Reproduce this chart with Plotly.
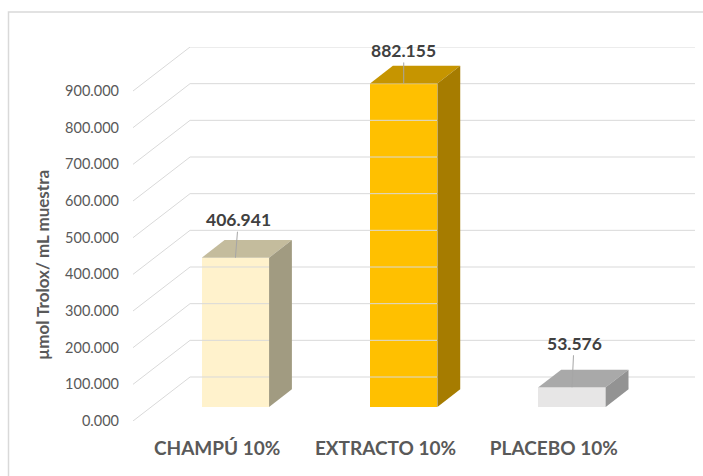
import plotly.graph_objects as go

# ---- data ----
categories = ["CHAMPÚ 10%", "EXTRACTO 10%", "PLACEBO 10%"]
values = [406.941, 882.155, 53.576]
y_ticks = [0, 100, 200, 300, 400, 500, 600, 700, 800, 900]
y_title = "µmol Trolox/ mL muestra"

# ---- style ----
front_colors = ["#FFF2CC", "#FFC000", "#E7E6E6"]
top_colors = ["#C4BC9D", "#C69500", "#A9A9A9"]
side_colors = ["#A19B81", "#A67C00", "#939393"]
label_shift = [(3, -38), (0, -33), (2, -44)]  # pixel offsets of data labels

FONT = "Lato, 'Open Sans', sans-serif"
GRID = "#D9D9D9"
DX, DY = 0.339, 120.0       # depth of the floor (category units, value units)
F1, F2 = 0.32, 0.72         # depth fractions of bar front / back
BW = 0.4                    # bar width (category units)

W, H = 703, 476
L, R, T, B = 133, 8, 47, 55

fig = go.Figure()

# perspective gridlines (front stub + back wall)
gx, gy = [], []
for v in y_ticks:
    gx += [-0.5, -0.5 + DX, len(categories) - 0.5 + DX, None]
    gy += [v, v + DY, v + DY, None]
fig.add_trace(go.Scatter(x=gx, y=gy, mode="lines",
                         line=dict(color=GRID, width=1), hoverinfo="skip",
                         showlegend=False))

# bars: front face
xf = [i + F1 * DX for i in range(len(categories))]
fig.add_trace(go.Bar(x=xf, y=values, base=[F1 * DY] * len(values), width=BW,
                     marker=dict(color=front_colors, line=dict(width=0)),
                     showlegend=False, hoverinfo="skip"))

bdx = (F2 - F1) * DX
bdy = (F2 - F1) * DY
for i, v in enumerate(values):
    x0 = xf[i] - BW / 2
    x1 = xf[i] + BW / 2
    base = F1 * DY
    top = base + v
    # top face
    fig.add_trace(go.Scatter(
        x=[x0, x1, x1 + bdx, x0 + bdx, x0],
        y=[top, top, top + bdy, top + bdy, top],
        fill="toself", fillcolor=top_colors[i], mode="lines",
        line=dict(width=0, color=top_colors[i]), hoverinfo="skip", showlegend=False))
    # side face
    fig.add_trace(go.Scatter(
        x=[x1, x1, x1 + bdx, x1 + bdx, x1],
        y=[base, top, top + bdy, base + bdy, base],
        fill="toself", fillcolor=side_colors[i], mode="lines",
        line=dict(width=0, color=side_colors[i]), hoverinfo="skip", showlegend=False))
    # data label with leader line
    fig.add_annotation(x=xf[i], y=top, xref="x", yref="y",
                       text=f"{v:.3f}", showarrow=True, arrowhead=0,
                       arrowwidth=1, arrowcolor="#A6A6A6",
                       ax=label_shift[i][0], ay=label_shift[i][1],
                       font=dict(family=FONT, size=17.5, color="#404040", weight="bold"))

# axis title
fig.add_annotation(xref="paper", yref="paper", x=0, y=(421 - 265) / (421 - 47),
                   xshift=-91, text=y_title, textangle=-90, showarrow=False,
                   xanchor="center", yanchor="middle",
                   font=dict(family=FONT, size=17, color="#595959", weight="bold"))

# chart border
fig.add_shape(type="rect", xref="paper", yref="paper",
              x0=(8.5 - L) / (W - L - R), x1=1.2,
              y0=-0.3, y1=(421 - 12) / (421 - 47),
              line=dict(color="#D9D9D9", width=1.5), layer="below")

fig.update_layout(
    width=W, height=H,
    margin=dict(l=L, r=R, t=T, b=B, pad=0),
    paper_bgcolor="white", plot_bgcolor="white",
    bargap=0, showlegend=False,
    xaxis=dict(range=[-0.5, len(categories) - 0.5 + DX],
               tickvals=list(range(len(categories))), ticktext=categories,
               showgrid=False, zeroline=False, showline=False, ticks="",
               ticklabelstandoff=14,
               tickfont=dict(family=FONT, size=19, color="#595959", weight="bold")),
    yaxis=dict(range=[0, y_ticks[-1] + DY], tickvals=y_ticks, tickformat=".3f",
               showgrid=False, zeroline=False, showline=False, ticks="",
               ticklabelstandoff=13,
               tickfont=dict(family=FONT, size=14.5, color="#595959")),
)

fig.write_html("out.html")
